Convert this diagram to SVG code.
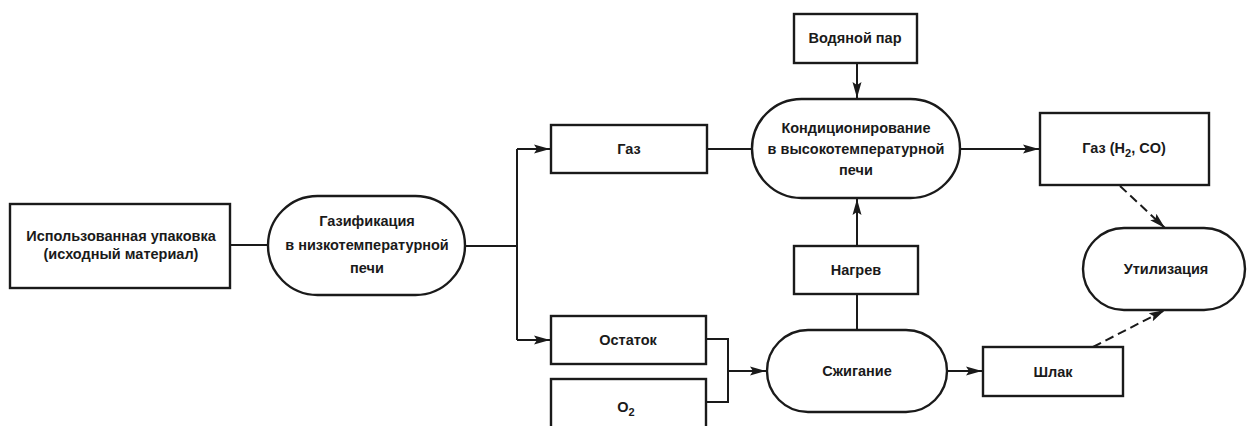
<svg xmlns="http://www.w3.org/2000/svg" width="1249" height="426" viewBox="0 0 1249 426">
<style>
.n{fill:#fff;stroke:#1a1a1a;stroke-width:2.4}
.t{font-family:"Liberation Sans",Arial,sans-serif;font-size:14.5px;font-weight:bold;fill:#1a1a1a;text-anchor:middle}
.c{fill:none;stroke:#1a1a1a;stroke-width:2}
.d{stroke-dasharray:9,5}
</style>
<defs>
<marker id="a" markerUnits="userSpaceOnUse" markerWidth="18" markerHeight="12" refX="16" refY="6" orient="auto">
<path d="M0,1.5 L16,6 L0,10.5 L3,6 Z" fill="#1a1a1a"/>
</marker>
</defs>
<rect width="1249" height="426" fill="#fff"/>
<g id="connectors">
<path class="c" d="M230,245 H268"/>
<path class="c" d="M465,246 H517"/>
<path class="c" d="M517,149 V340"/>
<path class="c" d="M517,149 H550" marker-end="url(#a)"/>
<path class="c" d="M517,340 H550" marker-end="url(#a)"/>
<path class="c" d="M707,149 H752"/>
<path class="c" d="M857,63 V98" marker-end="url(#a)"/>
<path class="c" d="M960,149 H1039" marker-end="url(#a)"/>
<path class="c" d="M857,246 V199" marker-end="url(#a)"/>
<path class="c" d="M857,294 V330"/>
<path class="c" d="M706,339 H728 V402 H706"/>
<path class="c" d="M728,371 H766" marker-end="url(#a)"/>
<path class="c" d="M947,371 H982" marker-end="url(#a)"/>
<path class="c d" d="M1120,186 L1165,228" marker-end="url(#a)"/>
<path class="c d" d="M1093,347 L1165,310" marker-end="url(#a)"/>
</g>
<g id="n1"><rect class="n" x="10" y="204" width="220" height="84"/>
<text class="t" x="121" y="241">Использованная упаковка</text>
<text class="t" x="121" y="259">(исходный материал)</text></g>
<g id="n2"><rect class="n" x="268" y="196" width="197" height="99" rx="49.5"/>
<text class="t" x="367" y="226">Газификация</text>
<text class="t" x="367" y="250">в низкотемпературной</text>
<text class="t" x="367" y="273">печи</text></g>
<g id="n3"><rect class="n" x="551" y="125" width="156" height="48"/>
<text class="t" x="629" y="154">Газ</text></g>
<g id="n4"><rect class="n" x="551" y="316" width="155" height="48"/>
<text class="t" x="628" y="345">Остаток</text></g>
<g id="n5"><rect class="n" x="551" y="379" width="155" height="60"/>
<text class="t" x="626" y="412">O<tspan font-size="11" dy="4">2</tspan></text></g>
<g id="n6"><rect class="n" x="794" y="14" width="123" height="49"/>
<text class="t" x="855" y="43">Водяной пар</text></g>
<g id="n7"><rect class="n" x="752" y="99" width="208" height="99" rx="49.5"/>
<text class="t" x="856" y="133">Кондиционирование</text>
<text class="t" x="856" y="154">в высокотемпературной</text>
<text class="t" x="856" y="175">печи</text></g>
<g id="n8"><rect class="n" x="794" y="246" width="124" height="48"/>
<text class="t" x="856" y="275">Нагрев</text></g>
<g id="n9"><rect class="n" x="767" y="330" width="180" height="82" rx="41"/>
<text class="t" x="857" y="376">Сжигание</text></g>
<g id="n10"><rect class="n" x="1040" y="113" width="169" height="72"/>
<text class="t" x="1124" y="153">Газ (H<tspan font-size="11" dy="4">2</tspan><tspan dy="-4">, CO)</tspan></text></g>
<g id="n11"><rect class="n" x="983" y="347" width="140" height="49"/>
<text class="t" x="1053" y="377">Шлак</text></g>
<g id="n12"><rect class="n" x="1083" y="228" width="162" height="82" rx="41"/>
<text class="t" x="1166" y="274">Утилизация</text></g>
</svg>
